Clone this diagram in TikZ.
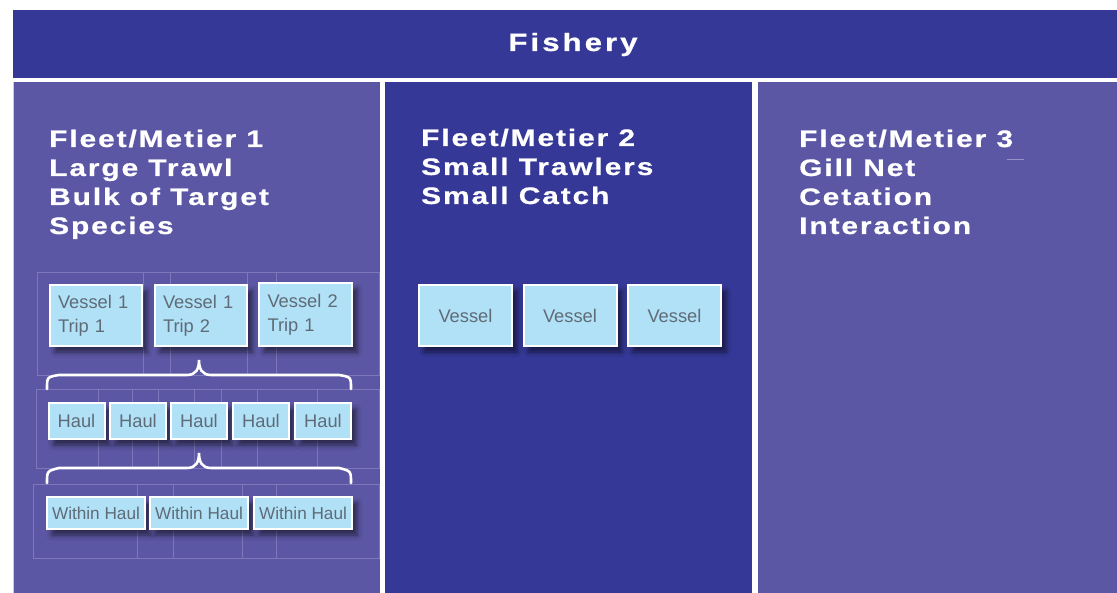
\documentclass[tikz,border=0pt]{standalone}
\usepackage{fontspec}
\usetikzlibrary{shadows.blur}
\newfontfamily\titlefont{Liberation Sans Bold}[FakeStretch=1.25,LetterSpace=8,FakeBold=0.6]
\newfontfamily\headfont{Liberation Sans Bold}[FakeStretch=1.25,LetterSpace=12,FakeBold=0.6]
\newfontfamily\boxfont{Liberation Sans}
\definecolor{hdrblue}{HTML}{353896}
\definecolor{panelpurple}{HTML}{5C57A4}
\definecolor{cellfill}{HTML}{B1E1F7}
\definecolor{celltext}{HTML}{5F6B76}
\definecolor{gridline}{HTML}{7C78BA}
\tikzset{
  ttl/.style={anchor=base west, inner sep=0pt, text=white,
    font=\titlefont\fontsize{23.9}{29}\selectfont},
  cell/.style={draw=white, line width=2pt, fill=cellfill, text=celltext,
    font=\boxfont\fontsize{18.3}{24}\selectfont, inner sep=0pt,
    blur shadow={shadow xshift=5pt, shadow yshift=-6pt, shadow blur radius=5pt, shadow opacity=55}},
  tripcell/.style={cell, minimum width=92pt, minimum height=61pt, align=left,
    text width=76pt},
  haulcell/.style={cell, minimum width=56pt, minimum height=36pt},
  withincell/.style={cell, minimum width=98pt, minimum height=32pt,
    font=\boxfont\fontsize{17.2}{24}\selectfont},
  vesselcell/.style={cell, minimum width=93pt, minimum height=61pt},
  grid/.style={draw=gridline, line width=0.7pt},
  bracepath/.style={draw=white, line width=2.6pt, line cap=round}
}
\begin{document}
\begin{tikzpicture}[x=1pt,y=-1pt]
\useasboundingbox (0,0) rectangle (1117,593);
\fill[white] (0,0) rectangle (1117,593);
% header and panels
\fill[hdrblue] (13,10) rectangle (1117,78);
\fill[panelpurple] (13,82) rectangle (380,593);
\fill[hdrblue] (385,82) rectangle (752,593);
\fill[panelpurple] (758,82) rectangle (1117,593);
\draw[draw=gray!40, line width=0.8pt] (13.4,82) -- (13.4,593);
\node[anchor=base, inner sep=0pt, text=white,
  font=\headfont\fontsize{25}{29}\selectfont] (fishery) at (573,51) {Fishery};
% titles
\node[ttl] (t1a) at (49,147) {Fleet/Metier 1};
\node[ttl] (t1b) at (49,176) {Large Trawl};
\node[ttl] (t1c) at (49,205) {Bulk of Target};
\node[ttl] (t1d) at (49,234) {Species};
\node[ttl] (t2a) at (421,146) {Fleet/Metier 2};
\node[ttl] (t2b) at (421,175) {Small Trawlers};
\node[ttl] (t2c) at (421,204) {Small Catch};
\node[ttl] (t3a) at (799,147) {Fleet/Metier 3};
\node[ttl] (t3b) at (799,176) {Gill Net};
\node[ttl] (t3c) at (799,205) {Cetation};
\node[ttl] (t3d) at (799,234) {Interaction};
\draw[draw=gridline!80!white, line width=0.6pt] (1007,159) -- (1024,159);
% faint grid in panel 1
\draw[grid] (37,272) rectangle (379,375);
\foreach \x in {143,170,247,276} \draw[grid] (\x,272) -- (\x,375);
\draw[grid] (36,389) rectangle (379,468);
\foreach \x in {98,132,158,194,221,257,317} \draw[grid] (\x,389) -- (\x,468);
\draw[grid] (33,484) rectangle (379,558);
\foreach \x in {137,173,242,276} \draw[grid] (\x,484) -- (\x,558);
% trip boxes
\node[tripcell] (v1t1) at (96,315.5) {Vessel 1\\Trip 1};
\node[tripcell] (v1t2) at (201,315.5) {Vessel 1\\Trip 2};
\node[tripcell, minimum width=93pt, minimum height=63pt] (v2t1) at (305.5,314.5) {Vessel 2\\Trip 1};
% braces
\coordinate (b1l) at (47,389);
\coordinate (b1r) at (351,389);
\coordinate (b1t) at (199,360);
\draw[bracepath] (b1l) .. controls (47,377) .. (59,375) -- (187,375)
  .. controls (196,375) and (199,369) .. (b1t)
  .. controls (199,369) and (202,375) .. (211,375) -- (339,375)
  .. controls (351,377) .. (b1r);
% hauls
\node[haulcell] (h1) at (76.5,421) {Haul};
\node[haulcell] (h2) at (138,421) {Haul};
\node[haulcell] (h3) at (199,421) {Haul};
\node[haulcell] (h4) at (261,421) {Haul};
\node[haulcell] (h5) at (323,421) {Haul};
\coordinate (b2l) at (47,483);
\coordinate (b2r) at (351,483);
\coordinate (b2t) at (199,453);
\draw[bracepath] (b2l) .. controls (47,471) .. (59,468) -- (187,468)
  .. controls (196,468) and (199,462) .. (b2t)
  .. controls (199,462) and (202,468) .. (211,468) -- (339,468)
  .. controls (351,471) .. (b2r);
% within hauls
\node[withincell] (w1) at (96,513) {Within Haul};
\node[withincell] (w2) at (199,513) {Within Haul};
\node[withincell] (w3) at (303,513) {Within Haul};
% panel 2 vessels
\node[vesselcell] (ve1) at (465.5,315.5) {Vessel};
\node[vesselcell] (ve2) at (570,315.5) {Vessel};
\node[vesselcell] (ve3) at (674.5,315.5) {Vessel};
\end{tikzpicture}
\end{document}
